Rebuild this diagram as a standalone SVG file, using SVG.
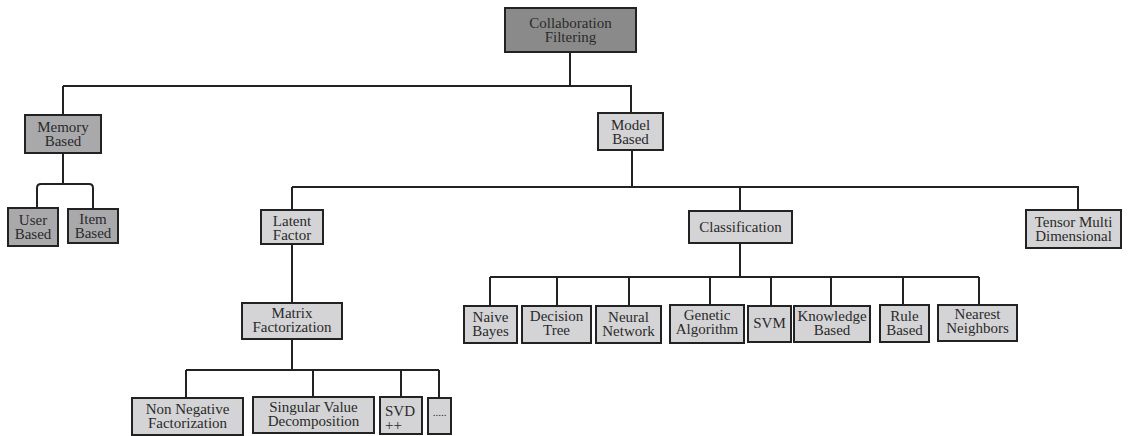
<svg xmlns="http://www.w3.org/2000/svg" width="1130" height="436" viewBox="0 0 1130 436">
<style>
.box{stroke:#222;stroke-width:2}
.dark{fill:#8a8a8a}
.mid{fill:#a9a9ab}
.light{fill:#d4d4d6}
text{font-family:"Liberation Serif","Times New Roman",serif;font-size:15px;fill:#2a2a2a;text-anchor:middle}
.conn{fill:none;stroke:#222;stroke-width:2}
</style>
<rect width="1130" height="436" fill="#fff"/>
<g id="connectors" class="conn">
<path d="M570 52V86M63 86H631V113M63 86V115"/>
<path d="M63 153V184M37 208V188Q37 184 41 184H89Q93 184 93 188V209"/>
<path d="M632 150V187M292 187H1078V210M292 187V210M740 187V211"/>
<path d="M292 244V303M292 339V370M186 370H439M186 370V398M313 370V397M401 370V397M439 370V398"/>
<path d="M740 243V277M490 277H979M490 277V306M557 277V306M629 277V306M710 277V305M771 277V306M831 277V306M903 277V305M979 277V305"/>
</g>
<g id="collab"><rect class="box dark" x="505" y="8" width="131" height="44"/><text x="570.5" y="28">Collaboration</text><text x="570.5" y="42">Filtering</text></g>
<g id="memory"><rect class="box mid" x="25" y="115" width="76" height="38"/><text x="63" y="132">Memory</text><text x="63" y="146">Based</text></g>
<g id="model"><rect class="box light" x="598" y="113" width="65" height="37"/><text x="630.5" y="130">Model</text><text x="630.5" y="144">Based</text></g>
<g id="user"><rect class="box mid" x="8" y="208" width="50" height="38"/><text x="33" y="225">User</text><text x="33" y="239">Based</text></g>
<g id="item"><rect class="box mid" x="68" y="209" width="50" height="34"/><text x="93" y="224">Item</text><text x="93" y="238">Based</text></g>
<g id="latent"><rect class="box light" x="261" y="210" width="62" height="34"/><text x="292" y="226">Latent</text><text x="292" y="240">Factor</text></g>
<g id="classification"><rect class="box light" x="689" y="211" width="103" height="32"/><text x="740.5" y="232">Classification</text></g>
<g id="tensor"><rect class="box light" x="1026" y="210" width="95" height="38"/><text x="1073.5" y="227">Tensor Multi</text><text x="1073.5" y="241">Dimensional</text></g>
<g id="matrix"><rect class="box light" x="242" y="303" width="100" height="36"/><text x="292" y="318">Matrix</text><text x="292" y="332">Factorization</text></g>
<g id="nnf"><rect class="box light" x="132" y="398" width="111" height="37"/><text x="187.5" y="414">Non Negative</text><text x="187.5" y="428">Factorization</text></g>
<g id="svd"><rect class="box light" x="253" y="397" width="121" height="36"/><text x="313.5" y="412">Singular Value</text><text x="313.5" y="426">Decomposition</text></g>
<g id="svdpp"><rect class="box light" x="380" y="397" width="42" height="37"/><text x="385" y="416" style="text-anchor:start">SVD</text><text x="385" y="430" style="text-anchor:start">++</text></g>
<g id="more"><rect class="box light" x="428" y="398" width="23" height="36"/><text x="439.5" y="416" style="font-size:11px">.....</text></g>
<g id="naive"><rect class="box light" x="464" y="306" width="53" height="37"/><text x="490.5" y="322">Naive</text><text x="490.5" y="336">Bayes</text></g>
<g id="decision"><rect class="box light" x="522" y="306" width="69" height="37"/><text x="556.5" y="321">Decision</text><text x="556.5" y="335">Tree</text></g>
<g id="neural"><rect class="box light" x="596" y="306" width="65" height="37"/><text x="628.5" y="322">Neural</text><text x="628.5" y="336">Network</text></g>
<g id="genetic"><rect class="box light" x="670" y="305" width="74" height="38"/><text x="707" y="320">Genetic</text><text x="707" y="334">Algorithm</text></g>
<g id="svm"><rect class="box light" x="748" y="306" width="43" height="36"/><text x="769.5" y="328">SVM</text></g>
<g id="knowledge"><rect class="box light" x="794" y="306" width="76" height="36"/><text x="832" y="321">Knowledge</text><text x="832" y="335">Based</text></g>
<g id="rule"><rect class="box light" x="880" y="305" width="49" height="37"/><text x="904.5" y="321">Rule</text><text x="904.5" y="335">Based</text></g>
<g id="nearest"><rect class="box light" x="938" y="305" width="79" height="36"/><text x="977.5" y="319">Nearest</text><text x="977.5" y="333">Neighbors</text></g>
</svg>
